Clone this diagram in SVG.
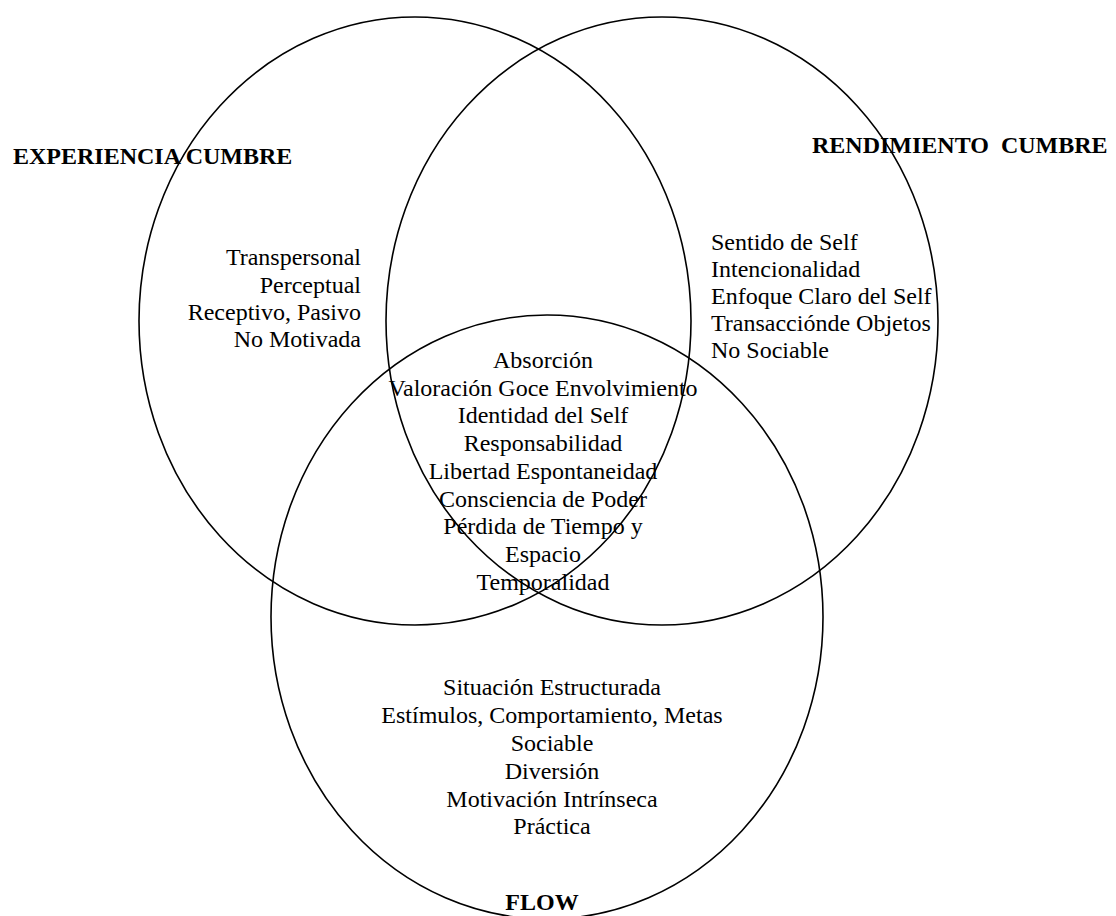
<svg xmlns="http://www.w3.org/2000/svg" width="1116" height="916" viewBox="0 0 1116 916">
  <style>
    .ring { fill: none; stroke: #000; stroke-width: 1.6; }
    .t { font-family: "Liberation Serif", "Times New Roman", serif; font-size: 24px; fill: #000; }
    .title { font-family: "Liberation Serif", "Times New Roman", serif; font-size: 24px; font-weight: bold; fill: #000; white-space: pre; }
    .mid { text-anchor: middle; }
    .end { text-anchor: end; }
  </style>
  <rect width="1116" height="916" fill="#fff"/>

  <!-- the three overlapping sets -->
  <g id="connectors">
    <ellipse id="ring-experiencia" class="ring" cx="415" cy="321" rx="276" ry="304"/>
    <ellipse id="ring-rendimiento" class="ring" cx="662" cy="321" rx="276" ry="304"/>
    <ellipse id="ring-flow" class="ring" cx="547" cy="617" rx="276" ry="302"/>
  </g>

  <g id="experiencia-cumbre">
    <text class="title" x="13" y="164">EXPERIENCIA CUMBRE</text>
    <text class="t end" x="361" y="265">Transpersonal</text>
    <text class="t end" x="361" y="293">Perceptual</text>
    <text class="t end" x="361" y="320">Receptivo, Pasivo</text>
    <text class="t end" x="361" y="347">No Motivada</text>
  </g>

  <g id="rendimiento-cumbre">
    <text class="title" x="812" y="153" xml:space="preserve">RENDIMIENTO  CUMBRE</text>
    <text class="t" x="711" y="250">Sentido de Self</text>
    <text class="t" x="711" y="277">Intencionalidad</text>
    <text class="t" x="711" y="304">Enfoque Claro del Self</text>
    <text class="t" x="711" y="331">Transacciónde Objetos</text>
    <text class="t" x="711" y="358">No Sociable</text>
  </g>

  <g id="interseccion">
    <text class="t mid" x="543" y="368">Absorción</text>
    <text class="t mid" x="543" y="396">Valoración Goce Envolvimiento</text>
    <text class="t mid" x="543" y="423">Identidad del Self</text>
    <text class="t mid" x="543" y="451">Responsabilidad</text>
    <text class="t mid" x="543" y="479">Libertad Espontaneidad</text>
    <text class="t mid" x="543" y="507">Consciencia de Poder</text>
    <text class="t mid" x="543" y="534">Pérdida de Tiempo y</text>
    <text class="t mid" x="543" y="562">Espacio</text>
    <text class="t mid" x="543" y="590">Temporalidad</text>
  </g>

  <g id="flow">
    <text class="t mid" x="552" y="695">Situación Estructurada</text>
    <text class="t mid" x="552" y="723">Estímulos, Comportamiento, Metas</text>
    <text class="t mid" x="552" y="751">Sociable</text>
    <text class="t mid" x="552" y="779">Diversión</text>
    <text class="t mid" x="552" y="807">Motivación Intrínseca</text>
    <text class="t mid" x="552" y="834">Práctica</text>
    <text class="title mid" x="542" y="910">FLOW</text>
  </g>
</svg>
